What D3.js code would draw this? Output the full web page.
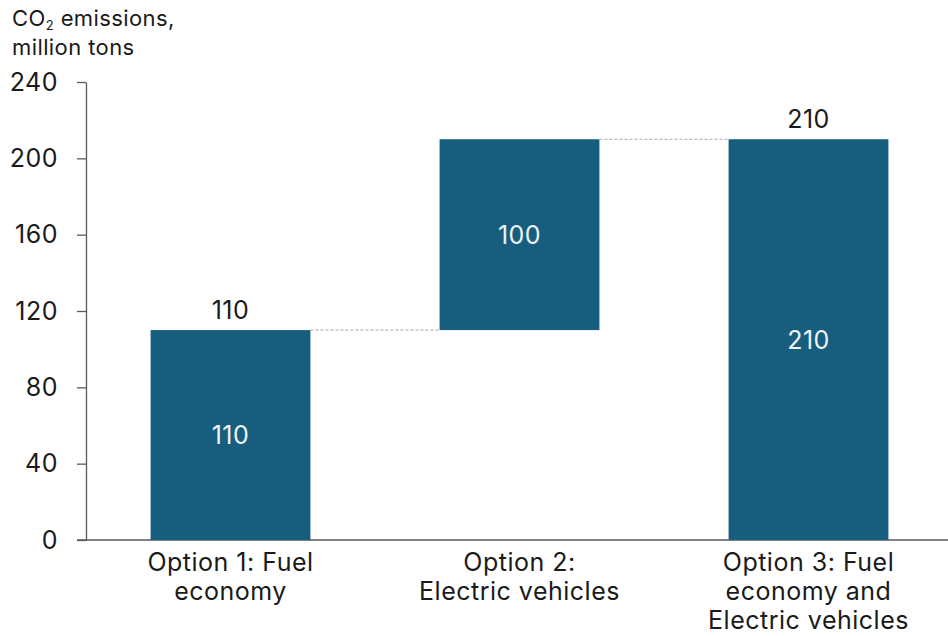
<!DOCTYPE html>
<html>
<head>
<meta charset="utf-8">
<script src="https://cdn.jsdelivr.net/npm/d3@7"></script>
<style>
  body { margin: 0; background: #fff; }
  svg { font-family: Inter, "Open Sans", sans-serif; }
</style>
</head>
<body>
<svg id="chart" width="948" height="636"></svg>
<script>
// waterfall data
var categories = ['Option 1: Fuel|economy', 'Option 2:|Electric vehicles', 'Option 3: Fuel|economy and|Electric vehicles'];
var starts = [0, 110, 0];
var values = [110, 100, 210];
var topLabels = ['110', '', '210'];
var yTicks = [0, 40, 80, 120, 160, 200, 240];

var svg = d3.select('#chart');
var barColor = '#175d7e';
var fs = 25;

var x = d3.scaleBand()
    .domain(categories)
    .range([86, 953])
    .paddingInner(0.447)
    .paddingOuter(0.2235);

var y = d3.scaleLinear()
    .domain([0, 240])
    .range([540, 82]);

// y axis
var yAxis = svg.append('g')
    .attr('transform', 'translate(86,0)')
    .call(d3.axisLeft(y).tickValues(yTicks).tickSize(9).tickPadding(19).tickSizeOuter(0));
yAxis.select('.domain').attr('stroke', '#595959').attr('stroke-width', 1.3);
yAxis.selectAll('.tick line').attr('stroke', '#595959').attr('stroke-width', 1.3);
yAxis.selectAll('.tick text')
    .attr('font-size', fs)
    .attr('fill', '#1a1a1a')
    .style('font-family', 'Inter, sans-serif')
    .style('letter-spacing', '0.5px');

// x axis baseline
svg.append('line')
    .attr('x1', 77).attr('x2', 948)
    .attr('y1', y(0)).attr('y2', y(0))
    .attr('stroke', '#595959')
    .attr('stroke-width', 1.3);

// connectors
for (var i = 0; i < values.length - 1; i++) {
    var level = starts[i] + values[i];
    svg.append('line')
        .attr('x1', x(categories[i]) + x.bandwidth())
        .attr('x2', x(categories[i + 1]))
        .attr('y1', y(level)).attr('y2', y(level))
        .attr('stroke', '#a6a6a6')
        .attr('stroke-width', 1)
        .attr('stroke-dasharray', '3,2');
}

// bars
svg.selectAll('rect.bar')
    .data(values)
    .enter().append('rect')
    .attr('class', 'bar')
    .attr('x', function(d, i) { return x(categories[i]); })
    .attr('width', x.bandwidth())
    .attr('y', function(d, i) { return y(starts[i] + d); })
    .attr('height', function(d, i) { return y(starts[i]) - y(starts[i] + d); })
    .attr('fill', barColor);

// values inside bars
svg.selectAll('text.inner')
    .data(values)
    .enter().append('text')
    .attr('class', 'inner')
    .attr('x', function(d, i) { return x(categories[i]) + x.bandwidth() / 2; })
    .attr('y', function(d, i) { return y(starts[i] + d / 2); })
    .attr('dy', '0.36em')
    .attr('text-anchor', 'middle')
    .attr('font-size', fs)
    .attr('letter-spacing', 0.5)
    .attr('fill', '#eef4f7')
    .text(function(d) { return d; });

// totals above bars
svg.selectAll('text.total')
    .data(topLabels)
    .enter().append('text')
    .attr('class', 'total')
    .attr('x', function(d, i) { return x(categories[i]) + x.bandwidth() / 2; })
    .attr('y', function(d, i) { return y(starts[i] + values[i]) - 20; })
    .attr('dy', '0.36em')
    .attr('text-anchor', 'middle')
    .attr('font-size', fs)
    .attr('letter-spacing', 0.5)
    .attr('fill', '#1a1a1a')
    .text(function(d) { return d; });

// category labels
categories.forEach(function(c) {
    var t = svg.append('text')
        .attr('x', x(c) + x.bandwidth() / 2)
        .attr('y', 571)
        .attr('text-anchor', 'middle')
        .attr('font-size', fs)
        .attr('letter-spacing', 0.5)
        .attr('fill', '#1a1a1a');
    c.split('|').forEach(function(line, j) {
        t.append('tspan')
            .attr('x', x(c) + x.bandwidth() / 2)
            .attr('dy', j === 0 ? 0 : 29)
            .text(line);
    });
});

// axis title
var title = svg.append('text')
    .attr('x', 12)
    .attr('y', 26)
    .attr('font-size', 22)
    .attr('letter-spacing', 0.4)
    .attr('fill', '#1a1a1a');
title.append('tspan').text('CO');
title.append('tspan').attr('font-size', 13).attr('dy', 4).text('2');
title.append('tspan').attr('dy', -4).text(' emissions,');
svg.append('text')
    .attr('x', 12)
    .attr('y', 55)
    .attr('font-size', 22)
    .attr('letter-spacing', 0.4)
    .attr('fill', '#1a1a1a')
    .text('million tons');
</script>
</body>
</html>
